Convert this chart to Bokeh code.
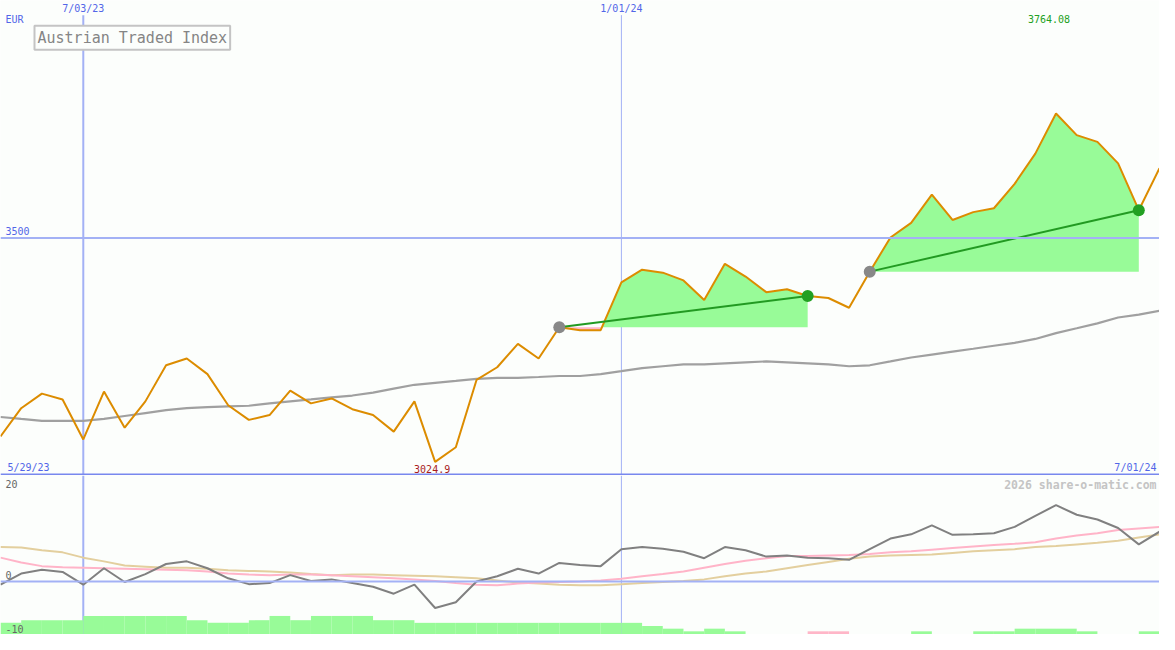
import pandas as pd
from bokeh.plotting import figure
from bokeh.models import Range1d, Label, Span
from bokeh.layouts import column
from bokeh.embed import file_html
from bokeh.resources import INLINE

# ---------------- data ----------------
weeks = [d.strftime("%Y-%m-%d") for d in pd.date_range("2023-06-05", periods=57, freq="7D")]

price = [3078.8, 3138.8, 3169.8, 3157.4, 3072.5, 3174.0, 3097.4, 3153.3, 3229.9, 3244.4,
         3211.2, 3145.0, 3114.0, 3124.3, 3176.0, 3149.1, 3159.5, 3136.7, 3124.3, 3089.1,
         3153.3, 3024.9, 3056.0, 3198.8, 3225.7, 3275.4, 3244.4, 3310.6, 3304.4, 3304.4,
         3405.8, 3432.7, 3426.5, 3410.0, 3368.6, 3445.1, 3418.2, 3385.1, 3391.3, 3376.8,
         3372.7, 3352.0, 3428.6, 3501.0, 3532.0, 3592.1, 3538.3, 3554.9, 3563.1, 3614.9,
         3679.1, 3764.08, 3718.4, 3703.9, 3658.4, 3559.0, 3648.0]

moving_avg = [3120.2, 3116.0, 3111.9, 3111.9, 3111.9, 3116.0, 3122.2, 3128.4, 3134.6, 3138.8,
              3140.9, 3142.9, 3144.0, 3149.1, 3153.3, 3157.4, 3161.6, 3165.7, 3171.9, 3180.2,
              3188.5, 3192.6, 3196.7, 3200.9, 3203.0, 3203.0, 3205.0, 3207.1, 3207.1, 3211.2,
              3217.4, 3223.7, 3227.8, 3231.9, 3231.9, 3234.0, 3236.1, 3238.1, 3236.1, 3234.0,
              3231.9, 3227.8, 3229.9, 3238.1, 3246.4, 3252.6, 3258.8, 3265.0, 3271.3, 3277.5,
              3285.8, 3298.2, 3308.5, 3318.9, 3331.3, 3337.5, 3345.8]

momentum = [-0.6, 1.5, 2.2, 1.8, -0.6, 2.5, -0.1, 1.4, 3.3, 3.8,
            2.5, 0.6, -0.5, -0.3, 1.2, 0.1, 0.4, -0.3, -1.0, -2.3,
            -0.6, -5.0, -3.9, 0.0, 1.0, 2.4, 1.5, 3.5, 3.1, 2.9,
            6.1, 6.5, 6.2, 5.6, 4.4, 6.5, 5.9, 4.7, 4.9, 4.5,
            4.4, 4.1, 6.1, 8.1, 8.9, 10.6, 8.8, 8.9, 9.1, 10.3,
            12.4, 14.4, 12.6, 11.7, 10.1, 7.0, 9.4]

signal_pink = [4.5, 3.6, 2.9, 2.7, 2.6, 2.5, 2.4, 2.3, 2.2, 2.1,
               1.9, 1.5, 1.3, 1.2, 1.3, 1.3, 1.2, 1.0, 0.8, 0.6,
               0.4, 0.1, -0.3, -0.6, -0.7, -0.4, -0.2, -0.1, 0.0, 0.2,
               0.5, 1.0, 1.4, 1.9, 2.6, 3.3, 3.9, 4.4, 4.8, 4.8,
               4.9, 5.0, 5.2, 5.5, 5.7, 6.0, 6.3, 6.6, 6.9, 7.1,
               7.4, 8.1, 8.7, 9.1, 9.7, 10.0, 10.3]

signal_tan = [6.5, 6.4, 5.9, 5.5, 4.5, 3.8, 3.0, 2.8, 2.6, 2.6,
              2.4, 2.1, 2.0, 1.9, 1.7, 1.4, 1.2, 1.3, 1.3, 1.2,
              1.1, 1.0, 0.8, 0.6, 0.2, -0.2, -0.4, -0.6, -0.7, -0.7,
              -0.5, -0.3, -0.1, 0.1, 0.4, 1.0, 1.5, 1.9, 2.5, 3.1,
              3.7, 4.3, 4.7, 4.9, 5.0, 5.1, 5.4, 5.7, 5.9, 6.1,
              6.5, 6.7, 7.0, 7.3, 7.7, 8.3, 8.9]

# weekly bars (one per interval between consecutive weeks); negative -> pink
bar_values = [2.2, 2.7, 2.7, 2.7, 3.5, 3.5, 3.5, 3.5, 3.5, 2.7,
              2.2, 2.2, 2.7, 3.5, 2.7, 3.5, 3.5, 3.5, 2.7, 2.7,
              2.2, 2.2, 2.2, 2.2, 2.2, 2.2, 2.2, 2.2, 2.2, 2.2,
              2.2, 1.6, 1.1, 0.6, 1.1, 0.6, 0.0, 0.0, 0.0, -0.6,
              -0.6, 0.0, 0.0, 0.0, 0.6, 0.0, 0.0, 0.6, 0.6, 1.1,
              1.1, 1.1, 0.6, 0.0, 0.0, 0.6]

trade_entries = [27, 42]
trade_exits = [39, 55]

marker_dates = ["2023-07-03", "2024-01-01"]
marker_labels = ["7/03/23", "1/01/24"]
range_start_label = "5/29/23"
range_end_label = "7/01/24"
level_value = 3500
title_text = "Austrian Traded Index"
currency = "EUR"
osc_ticks = [20, 0, -10]

# ---------------- layout constants ----------------
W, H1, H2 = 1159, 475, 159
SY = 634 / 650.0
FONT = "DejaVu Sans Mono"
BG = "#fcfefc"
GRID = "#a3b1f5"
AXIS = "#7888ee"
BLUE_TXT = "#5266e8"
MARKER_WIDTHS = [2, 1]

x = list(range(len(weeks)))
t0 = pd.Timestamp(weeks[0])
marker_x = [(pd.Timestamp(d) - t0).days / 7.0 for d in marker_dates]
xmax = len(weeks) - 1

Y0, Y1 = 2996, 4004


def mkfig(h, yr):
    f = figure(width=W, height=h, x_range=Range1d(0, xmax), y_range=Range1d(*yr),
               output_backend="svg", toolbar_location=None,
               x_axis_location=None, y_axis_location=None,
               min_border=0, min_border_left=0, min_border_right=0,
               min_border_top=0, min_border_bottom=0)
    f.xgrid.visible = False
    f.ygrid.visible = False
    f.outline_line_color = None
    f.background_fill_color = BG
    f.border_fill_color = BG
    return f


def lab(f, text, xx, yy, color, size="10px", align="left", baseline="top",
        xu="screen", yu="screen", style="normal", x_off=0, y_off=0):
    f.add_layout(Label(x=xx, y=yy, x_units=xu, y_units=yu, text=text, text_font=FONT,
                       text_font_size=size, text_color=color, text_align=align,
                       text_baseline=baseline, text_font_style=style,
                       x_offset=x_off, y_offset=y_off))


# ---------------- top panel ----------------
p = mkfig(H1, (Y0, Y1))
upx = (Y1 - Y0) / H1  # data units per pixel

for mx, lw in zip(marker_x, MARKER_WIDTHS):
    p.segment(x0=[mx], x1=[mx], y0=[Y0], y1=[Y1 - 15 * SY * upx], line_color=GRID, line_width=lw)
p.add_layout(Span(location=level_value, dimension="width", line_color=GRID, line_width=2))
p.add_layout(Span(location=Y0 + 1.0 * upx, dimension="width", line_color=AXIS, line_width=2))

# trade fills
for e, xit in zip(trade_entries, trade_exits):
    base = price[e]
    xs, ys = [e], [price[e]]
    for i in range(e, xit):
        a, b = price[i] - base, price[i + 1] - base
        if a * b < 0:
            t = a / (a - b)
            xs.append(i + t)
            ys.append(base)
        xs.append(i + 1)
        ys.append(price[i + 1])
    p.varea(x=xs, y1=[base] * len(xs), y2=[max(v, base) for v in ys], fill_color="#98fb98")
    p.varea(x=xs, y1=[base] * len(xs), y2=[min(v, base) for v in ys], fill_color="#ffb6c8")

p.line(x, moving_avg, line_color="#a0a0a0", line_width=2.2)
p.line(x, price, line_color="#dc8c00", line_width=2)

for e, xit in zip(trade_entries, trade_exits):
    p.line([e, xit], [price[e], price[xit]], line_color="#229a22", line_width=2)
p.scatter([e for e in trade_entries], [price[e] for e in trade_entries],
          size=12, fill_color="#888888", line_color=None)
p.scatter([e for e in trade_exits], [price[e] for e in trade_exits],
          size=12, fill_color="#22a022", line_color=None)

# texts top
lab(p, currency, 5, H1 - 14 * SY, BLUE_TXT)
for mx, ml in zip(marker_x, marker_labels):
    lab(p, ml, mx, H1 - 3 * SY, BLUE_TXT, align="center", xu="data")
imax = price.index(max(price))
imin = price.index(min(price))
lab(p, f"{max(price):.2f}", imax, H1 - 15 * SY, "#22a022", align="center", xu="data", x_off=-7)
lab(p, f"{min(price):.1f}", imin, 3, "#a81c1c", align="center", baseline="bottom", xu="data", x_off=-3)
lab(p, str(level_value), 5, level_value, BLUE_TXT, baseline="bottom", yu="data", y_off=3)
lab(p, range_start_label, 7, 3, BLUE_TXT, baseline="bottom")
lab(p, range_end_label, W - 3, 3, BLUE_TXT, align="right", baseline="bottom")

p.add_layout(Label(x=34, y=H1 - 26 * SY, x_units="screen", y_units="screen", text=title_text,
                   text_font=FONT, text_font_size="15px", text_color="#858585",
                   text_baseline="top", text_align="left",
                   border_line_color="#c4c4c4", border_line_width=2,
                   background_fill_color="#fcfefc", padding=3))

# ---------------- bottom panel ----------------
q = mkfig(H2, (-10, 20))
for mx, lw in zip(marker_x, MARKER_WIDTHS):
    q.segment(x0=[mx], x1=[mx], y0=[-10], y1=[20], line_color=GRID, line_width=lw)
q.add_layout(Span(location=0, dimension="width", line_color=GRID, line_width=2))

left = x[:-1]
right = x[1:]
tops = [-10 + abs(v) for v in bar_values]
cols = ["#98fb98" if v >= 0 else "#ffb6c8" for v in bar_values]
q.quad(left=left, right=right, bottom=[-10] * len(left), top=tops, fill_color=cols, line_color=None)

q.line(x, signal_tan, line_color="#e3cf9e", line_width=2)
q.line(x, signal_pink, line_color="#ffb4c8", line_width=2)
q.line(x, momentum, line_color="#808080", line_width=2)

lab(q, str(osc_ticks[0]), 5, H2 - 5 * SY, "#666666")
lab(q, str(osc_ticks[1]), 5, osc_ticks[1], "#666666", baseline="bottom", yu="data", y_off=3)
lab(q, str(osc_ticks[2]), 5, 2, "#666666", baseline="bottom")
lab(q, "2026 share-o-matic.com", W - 3, H2 - 3 * SY, "#c4c4c4", size="11.5px",
    align="right", style="bold")

layout = column(p, q, spacing=0)
open("out.html", "w").write(file_html(layout, INLINE))
